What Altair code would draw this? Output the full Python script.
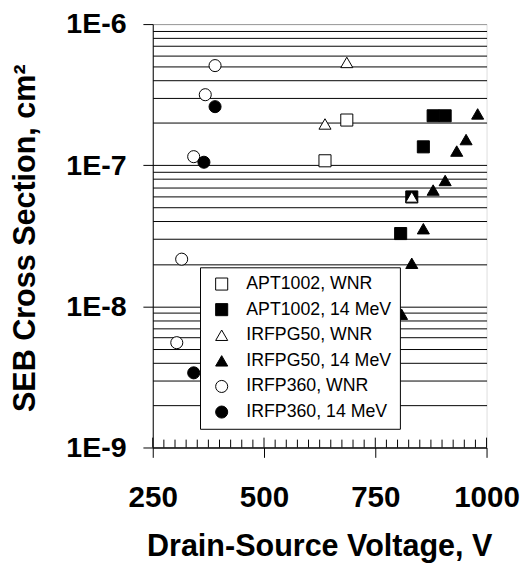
import altair as alt
import pandas as pd

# ---- data ----
series_names = ["APT1002, WNR", "APT1002, 14 MeV", "IRFPG50, WNR",
                "IRFPG50, 14 MeV", "IRFP360, WNR", "IRFP360, 14 MeV"]
series_shapes = ["square", "square", "triangle-up", "triangle-up", "circle", "circle"]
series_fills = ["white", "black", "white", "black", "white", "black"]
series_strokes = ["black", "black", "black", "black", "black", "black"]

apt_wnr_v = [637, 686]
apt_wnr_s = [1.075e-7, 2.09e-7]
apt_14_v = [807, 832, 858, 880, 907]
apt_14_s = [3.28e-8, 5.96e-8, 1.35e-7, 2.24e-7, 2.24e-7]
pg_wnr_v = [637, 686, 832]
pg_wnr_s = [1.96e-7, 5.35e-7, 5.96e-8]
pg_14_v = [809, 832, 858, 880, 907, 933, 954, 980]
pg_14_s = [8.8e-9, 2.02e-8, 3.55e-8, 6.67e-8, 7.8e-8, 1.26e-7, 1.52e-7, 2.31e-7]
p360_wnr_v = [304, 315, 342, 368, 390]
p360_wnr_s = [5.53e-9, 2.16e-8, 1.15e-7, 3.16e-7, 5.08e-7]
p360_14_v = [342, 365, 390]
p360_14_s = [3.38e-9, 1.05e-7, 2.60e-7]

x_major = [250, 500, 750, 1000]
x_minor = [275, 300, 325, 350, 375, 400, 425, 450, 475,
           525, 550, 575, 600, 625, 650, 675, 700, 725,
           775, 800, 825, 850, 875, 900, 925, 950, 975]
y_grid = [1e-9, 2e-9, 3e-9, 4e-9, 5e-9, 6e-9, 7e-9, 8e-9, 9e-9,
          1e-8, 2e-8, 3e-8, 4e-8, 5e-8, 6e-8, 7e-8, 8e-8, 9e-8,
          1e-7, 2e-7, 3e-7, 4e-7, 5e-7, 6e-7, 7e-7, 8e-7, 9e-7, 1e-6]

rows = []
for name, vs, ss in [
    (series_names[0], apt_wnr_v, apt_wnr_s),
    (series_names[1], apt_14_v, apt_14_s),
    (series_names[2], pg_wnr_v, pg_wnr_s),
    (series_names[3], pg_14_v, pg_14_s),
    (series_names[4], p360_wnr_v, p360_wnr_s),
    (series_names[5], p360_14_v, p360_14_s),
]:
    for v, s in zip(vs, ss):
        rows.append({"v": v, "s": s, "series": name})
df = pd.DataFrame(rows)
minor_df = pd.DataFrame({"v": x_minor})
major_df = pd.DataFrame({"v": x_major})

W, H = 339, 430
FONT = "Liberation Sans"
decade = "abs(log(datum.value)/LN10 - round(log(datum.value)/LN10)) < 0.01"

x_enc = alt.X(
    "v:Q",
    scale=alt.Scale(domain=[250, 1000], nice=False, zero=False),
    axis=alt.Axis(
        values=x_major, format="d", grid=False, tickSize=10, tickColor="black",
        domainColor="black", labelFont=FONT, labelFontSize=30,
        labelFontWeight="bold", labelColor="black", labelPadding=26,
        labelFlush=False,
        title="Drain-Source Voltage, V", titleFont=FONT, titleFontSize=31,
        titleFontWeight="bold", titleColor="black",
        titleBaseline="alphabetic", titleY=110, titleX=169,
    ),
)

legend = alt.Legend(
    orient="none", legendX=48, legendY=247, title=None,
    fillColor="white", strokeColor="black", padding=8, symbolOffset=5,
    labelFont=FONT, labelFontSize=18, labelColor="black",
    symbolSize=150, symbolStrokeColor="black", symbolStrokeWidth=1,
    rowPadding=8, labelOffset=16, labelLimit=400, cornerRadius=0,
)

points = alt.Chart(df).mark_point(
    filled=True, size=150, strokeWidth=1, opacity=1
).encode(
    x=x_enc,
    y=alt.Y(
        "s:Q",
        scale=alt.Scale(type="log", domain=[1e-9, 1e-6], nice=False),
        axis=alt.Axis(
            values=y_grid,
            labelExpr=f"{decade} ? '1E' + round(log(datum.value)/LN10) : ''",
            grid=True, gridColor={"condition": {"test": "datum.value > 9.5e-7", "value": "#999999"}, "value": "black"},
            gridWidth=1,
            tickSize={"condition": {"test": decade, "value": 10}, "value": 0},
            tickColor="black", domainColor="black",
            labelFont=FONT, labelFontSize=29, labelFontWeight="bold",
            labelColor="black", labelPadding=17, labelFlush=False,
            title="SEB Cross Section, cm²", titleFont=FONT, titleFontSize=31,
            titleFontWeight="bold", titleColor="black",
            titleBaseline="alphabetic", titleAngle=270, titleX=-120, titleY=217,
            titleAlign="center",
        ),
    ),
    shape=alt.Shape("series:N", scale=alt.Scale(domain=series_names, range=series_shapes), legend=legend),
    fill=alt.Fill("series:N", scale=alt.Scale(domain=series_names, range=series_fills), legend=legend),
    stroke=alt.Stroke("series:N", scale=alt.Scale(domain=series_names, range=series_strokes), legend=legend),
)

minor_ticks = alt.Chart(minor_df).mark_rule(color="black", strokeWidth=1).encode(
    x=x_enc, y=alt.value(H - 8), y2=alt.value(H)
)
major_ticks = alt.Chart(major_df).mark_rule(color="black", strokeWidth=1).encode(
    x=x_enc, y=alt.value(H - 10), y2=alt.value(H)
)

chart = alt.layer(minor_ticks, major_ticks, points).properties(
    width=W, height=H,
    autosize="none",
    padding={"left": 147, "top": 12, "right": 36, "bottom": 116},
).configure_view(stroke="#999999", strokeWidth=1).configure(background="white")

chart.save("out.html", embed_options={"renderer": "svg", "actions": False})
